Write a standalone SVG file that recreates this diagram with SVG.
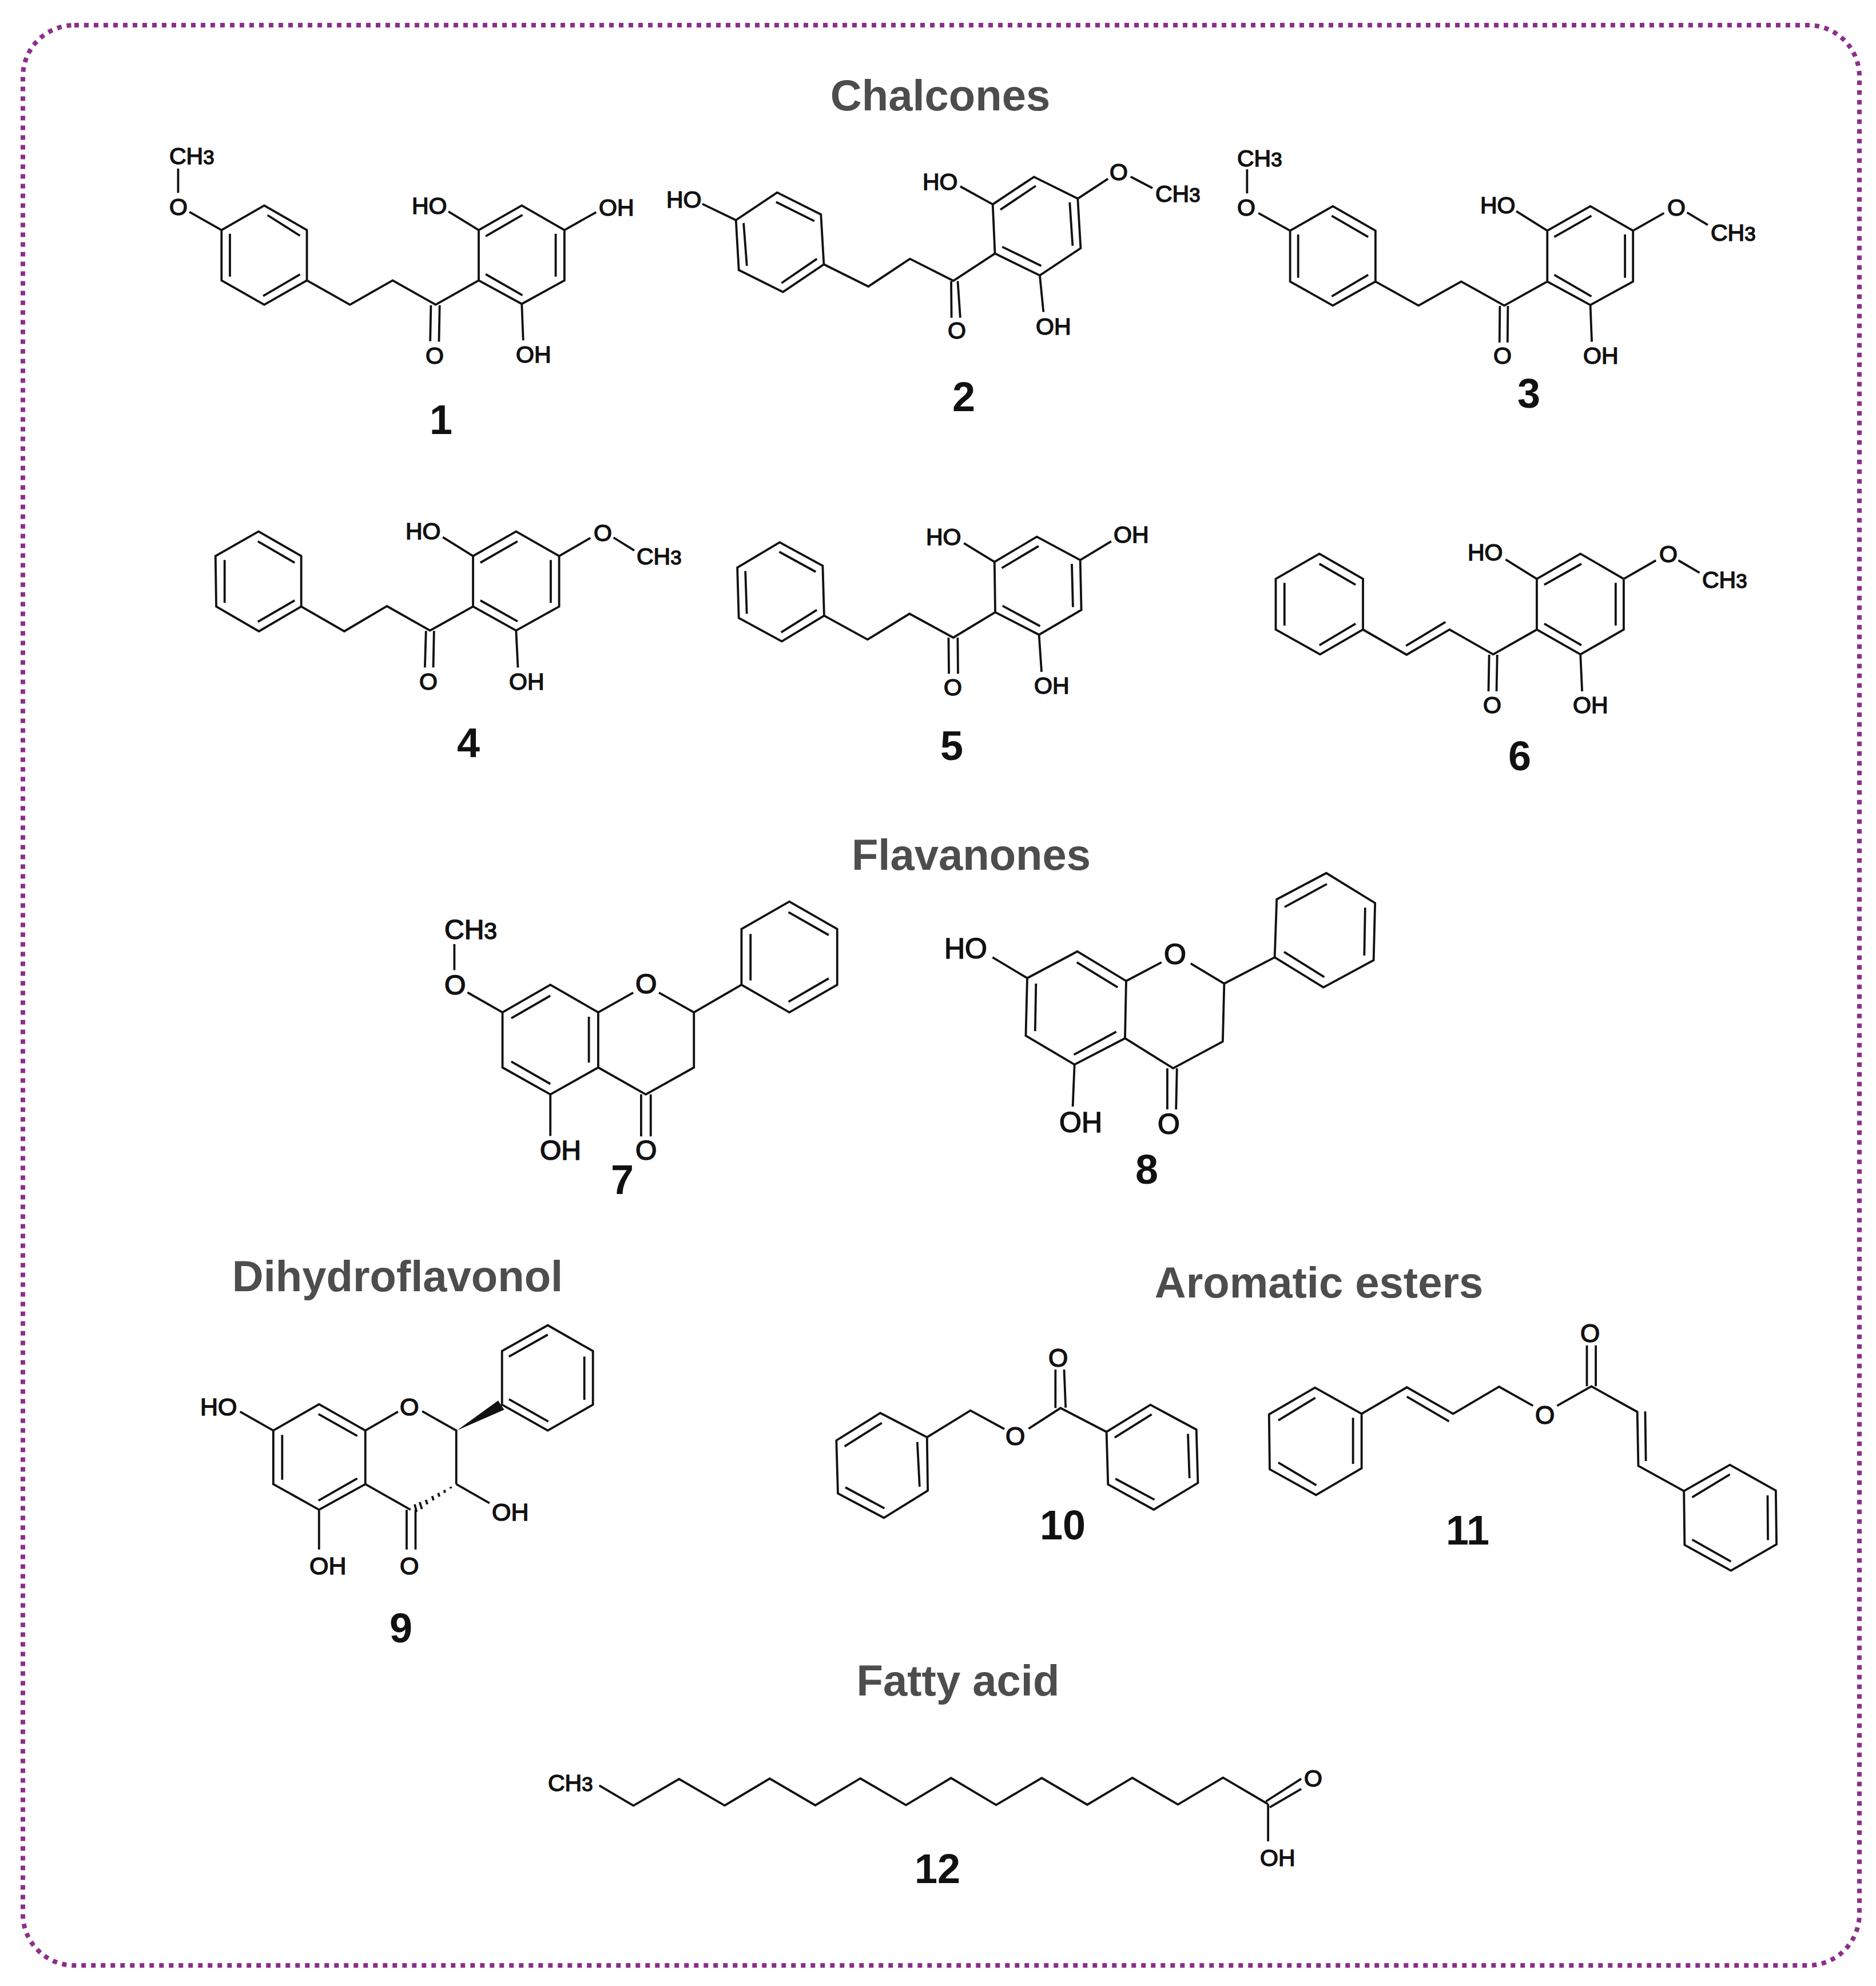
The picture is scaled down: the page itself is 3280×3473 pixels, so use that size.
<svg xmlns="http://www.w3.org/2000/svg" width="3280" height="3473" viewBox="0 0 3280 3473">
<style>
.b{fill:none;stroke:#111;stroke-width:3.8;vector-effect:non-scaling-stroke}
.w{fill:#111}
text{font-family:"Liberation Sans",Arial,sans-serif;fill:#111}
.l{font-size:41px;stroke:#111;stroke-width:1.5px}
.k{font-size:43px;stroke:#111;stroke-width:1.5px}
.m{font-size:44px;stroke:#111;stroke-width:1.5px}
.g{font-size:48px;stroke:#111;stroke-width:1.6px}
.h{font-size:50px;stroke:#111;stroke-width:1.6px}
.n{font-size:72px;font-weight:700;text-anchor:middle}
.t{font-size:76px;font-weight:700;fill:#4d4d4d;text-anchor:middle}
.s{font-size:.85em}
</style>
<rect id="frame" x="40" y="44" width="3211" height="3393" rx="90" fill="#fff" stroke="#8b2f8b" stroke-width="8" stroke-dasharray="8 9"/>
<g id="titles">
<text class="t" x="1644" y="193">Chalcones</text>
<text class="t" x="1698" y="1521">Flavanones</text>
<text class="t" x="695" y="2258">Dihydroflavonol</text>
<text class="t" x="2306" y="2269">Aromatic esters</text>
<text class="t" x="1675" y="2965">Fatty acid</text>
</g>
<g id="compound-1">
<path class="b" transform="translate(240 100) scale(.6378 .4337)" d="M348 598L465 697V900L348 998L231 900V697ZM357 637L446 720M254 712V885M345 963L446 876M465 900L583 998L700 900L818 998L936 900M936 900V697L1054 598L1171 697V900L1054 995ZM955 722L1056 636M1147 712V885M955 875L1056 960M805 1000L803 1145M829 1000L827 1147M1054 995L1058 1142M936 697L853 622M1171 697L1258 625M231 697L143 624M112 547V449"/>
<text class="l" x="296" y="287">CH<tspan class="s">3</tspan></text><text class="l" x="296" y="376">O</text><text class="l" x="720" y="374">HO</text><text class="l" x="1047" y="377">OH</text><text class="l" x="744" y="636">O</text><text class="l" x="902" y="634">OH</text><text class="n" x="771" y="759">1</text>
</g>
<g id="compound-2">
<path class="b" transform="translate(1140 230) scale(.6378 .3333)" d="M343 320L463 435L471 697L359 842L238 727L230 465ZM340 370L445 470M251 480L260 705M355 795L452 668M471 697L593 813L707 668L826 783L940 640M940 640L934 382L1047 238L1167 352L1175 612L1063 755ZM955 410L1052 285M1145 372L1153 600M960 605L1067 705M820 785L821 977M838 785L845 977M1063 755L1073 947M934 382L845 288M1167 352L1250 248M1312 237L1372 297M230 465L138 380"/>
<text class="l" x="1165" y="363">HO</text><text class="l" x="1613" y="332">HO</text><text class="l" x="1940" y="315">O</text><text class="l" x="2020" y="353">CH<tspan class="s">3</tspan></text><text class="l" x="1657" y="592">O</text><text class="l" x="1811" y="585">OH</text><text class="n" x="1685" y="719">2</text>
</g>
<g id="compound-3">
<path class="b" transform="translate(2130 230) scale(.6378 .3333)" d="M314 392L431 520V787L314 913L197 787V520ZM311 442L411 553M219 540V767M311 865L411 752M431 787L549 913L666 787L784 913L902 787M902 787V520L1020 392L1137 520V787L1020 910ZM921 553L1023 442M1115 540V767M921 752L1023 865M772 915L771 1107M794 915L793 1107M1020 910L1024 1103M902 520L817 418M1137 520L1222 428M1285 425L1342 490M197 520L110 428M79 325V198"/>
<text class="l" x="2163" y="291">CH<tspan class="s">3</tspan></text><text class="l" x="2163" y="377">O</text><text class="l" x="2588" y="373">HO</text><text class="l" x="2915" y="377">O</text><text class="l" x="2991" y="421">CH<tspan class="s">3</tspan></text><text class="l" x="2611" y="636">O</text><text class="l" x="2768" y="636">OH</text><text class="n" x="2673" y="713">3</text>
</g>
<g id="compound-4">
<path class="b" transform="translate(350 880) scale(.6378 .3333)" d="M160 148L277 277V542L161 672L44 542L42 277ZM158 200L259 312M67 298V523M158 622L259 510M277 542L395 672L512 540L630 668L748 542M748 542V277L866 148L984 277V542L866 668ZM768 312L870 200M961 298V523M768 510L870 620M619 670L616 862M641 670L639 862M866 668L871 862M748 277L665 178M984 277L1070 182M1133 180L1190 248"/>
<text class="l" x="709" y="943">HO</text><text class="l" x="1038" y="946">O</text><text class="l" x="1113" y="987">CH<tspan class="s">3</tspan></text><text class="l" x="733" y="1206">O</text><text class="l" x="890" y="1206">OH</text><text class="n" x="819" y="1324">4</text>
</g>
<g id="compound-5">
<path class="b" transform="translate(1270 880) scale(.6378 .3333)" d="M146 205L264 328L268 590L152 725L34 602L30 338ZM145 255L245 360M52 356L56 580M150 678L248 560M268 590L387 715L502 580L622 705L737 572M737 572L735 308L851 176L970 298L973 560L857 690ZM755 340L856 225M947 318L950 545M757 538L860 645M609 705L610 895M634 705L635 895M857 690L864 885M735 308L651 210M970 298L1055 200"/>
<text class="l" x="1619" y="953">HO</text><text class="l" x="1947" y="949">OH</text><text class="l" x="1650" y="1216">O</text><text class="l" x="1808" y="1213">OH</text><text class="n" x="1664" y="1329">5</text>
</g>
<g id="compound-6">
<path class="b" transform="translate(2200 900) scale(.5867 .3333)" d="M182 205L312 337V603L184 733L52 603V337ZM182 258L290 368M78 358V582M182 685L290 572M312 603L442 735L570 603L700 733L830 603M440 688L558 563M830 603V337L960 205L1089 337V603L960 733ZM852 368L963 258M1065 358V582M852 572L963 685M688 735L686 927M712 735L710 927M960 733L965 927M830 337L737 235M1089 337L1185 240M1252 240L1315 305"/>
<text class="l" x="2566" y="980">HO</text><text class="l" x="2901" y="983">O</text><text class="l" x="2976" y="1028">CH<tspan class="s">3</tspan></text><text class="l" x="2593" y="1247">O</text><text class="l" x="2750" y="1247">OH</text><text class="n" x="2657" y="1347">6</text>
</g>
<g id="compound-7">
<path class="b" transform="translate(750 1530) scale(.5102 .3827)" d="M416 502L580 628V880L416 1003L252 880V628ZM548 648V858M282 655L416 552M282 853L416 955M580 628L700 538M788 538L908 628V880L743 1003L580 880M908 628L1071 502M1071 502V247L1235 122L1399 247V502L1235 628ZM1102 270V482M1232 170L1370 275M1232 580L1370 473M727 1003V1195M760 1003V1195M416 1003V1193M252 628L132 537M87 435V316"/>
<text class="g" x="777" y="1642">CH<tspan class="s">3</tspan></text><text class="g" x="777" y="1739">O</text><text class="g" x="1111" y="1737">O</text><text class="g" x="944" y="2028">OH</text><text class="g" x="1111" y="2028">O</text><text class="n" x="1088" y="2088">7</text>
</g>
<g id="compound-8">
<path class="b" transform="translate(1620 1500) scale(.5102 .3827)" d="M517 428L684 563L680 825L507 945L340 813L345 550ZM515 478L655 592M375 575L372 792M505 900L650 795M684 563L805 478M905 483L1020 575L1015 840L845 962L680 825M1020 575L1193 455M1193 455L1200 190L1370 70L1537 207L1532 468L1360 592ZM1227 225L1372 120M1503 228L1500 447M1225 430L1363 545M825 962V1150M858 962L855 1150M507 945L501 1137M345 550L226 455"/>
<text class="h" x="1651" y="1676">HO</text><text class="h" x="2035" y="1686">O</text><text class="h" x="1852" y="1980">OH</text><text class="h" x="2024" y="1983">O</text><text class="n" x="2005" y="2070">8</text>
</g>
<g id="compound-9">
<path class="b" transform="translate(330 2290) scale(.4847 .3827)" d="M470 433L637 553V798L470 915L305 798V553ZM468 478L608 578M337 573V778M468 873L608 772M637 553L755 467M842 465L965 553V798M637 798L800 915M1130 435V190L1295 72L1458 190V435L1295 553ZM1155 215L1295 115M1427 215V413M1155 410L1297 512M786 915V1097M818 915V1097M470 915V1097M305 553L185 467M965 798L1085 885M945 810L945 818M922 825L924 838M900 838L904 855M878 852L883 872M855 870L861 890M833 880L841 912M815 890L822 925"/>
<polygon class="w" transform="translate(330 2290) scale(.4847 .3827)" points="968,552 1116,416 1138,458"/>
<text class="k" x="350" y="2475">HO</text><text class="k" x="699" y="2475">O</text><text class="k" x="860" y="2659">OH</text><text class="k" x="541" y="2753">OH</text><text class="k" x="699" y="2753">O</text><text class="n" x="701" y="2872">9</text>
</g>
<g id="compound-10">
<path class="b" transform="translate(1440 2300) scale(.4464 .3333)" d="M222 513L405 640L408 920L236 1063L56 935L50 657ZM228 565L82 688M367 665L376 900M85 903L238 1013M405 640L575 500L708 597M803 595L928 487L1108 612M1108 612L1280 470L1460 600L1466 880L1293 1020L1114 888ZM1140 642L1285 520M1427 622L1433 855M1143 858L1296 968M908 487V285M948 485L942 285"/>
<text class="m" x="1833" y="2390">O</text><text class="m" x="1758" y="2527">O</text><text class="n" x="1858" y="2692">10</text>
</g>
<g id="compound-11">
<path class="b" transform="translate(2190 2290) scale(.5995 .3333)" d="M182 410L318 547V833L185 973L50 838L48 550ZM183 463L75 582M293 568V810M75 803L186 922M318 547L450 408L585 547L719 405L818 505M888 505L988 403L1122 537L1125 820L1258 952M450 457L573 587M1145 535L1147 795M975 403V188M1001 403V188M1258 952L1392 815L1526 950L1528 1232L1395 1370L1260 1235ZM1282 985L1392 865M1502 975L1503 1210M1282 1207L1395 1322"/>
<text class="m" x="2684" y="2490">O</text><text class="m" x="2763" y="2347">O</text><text class="n" x="2566" y="2701">11</text>
</g>
<g id="compound-12">
<path class="b" transform="translate(930 3040) scale(.9058 .3333)" d="M130 247L196 353L284 213L372 352L459 211L547 351L634 210L722 350L809 208L896 349L984 208L1072 348L1159 207L1247 347L1334 206L1421 345M1417 330L1485 212M1424 362L1485 265M1421 345V540"/>
<text class="l" x="958" y="3132">CH<tspan class="s">3</tspan></text><text class="l" x="2280" y="3124">O</text><text class="l" x="2203" y="3263">OH</text><text class="n" x="1639" y="3293">12</text>
</g>
</svg>
